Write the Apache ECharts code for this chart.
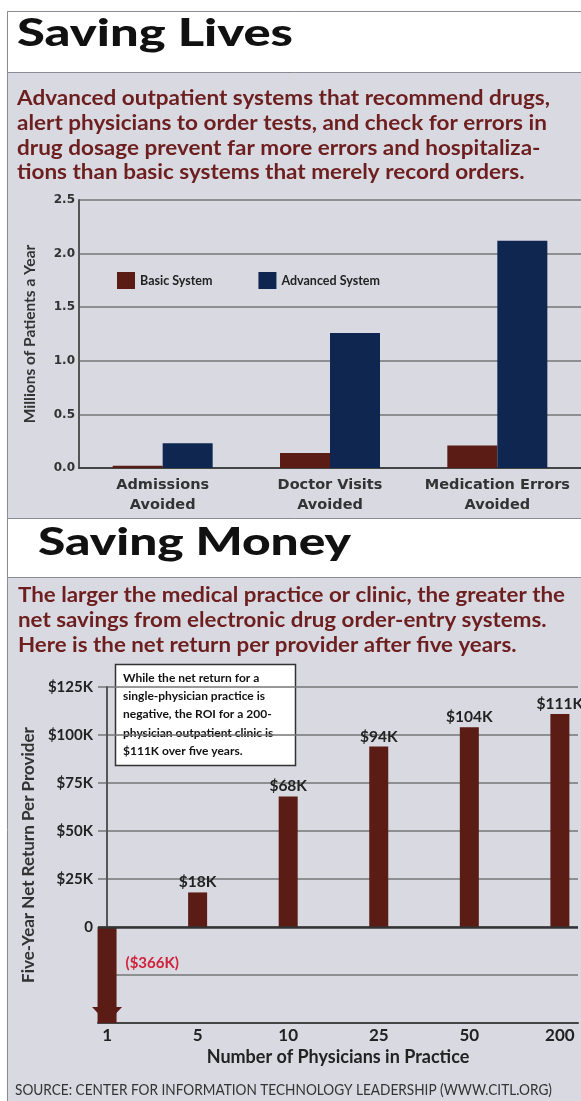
<!DOCTYPE html>
<html>
<head>
<meta charset="utf-8">
<script src="https://cdn.jsdelivr.net/npm/echarts@6/dist/echarts.min.js"></script>
<style>
html,body{margin:0;padding:0;background:#fff;}
#chart{width:581px;height:1101px;}
</style>
</head>
<body>
<div id="chart"></div>
<script>
// ---- data: Saving Lives ----
const livesCategories = ['Admissions\nAvoided', 'Doctor Visits\nAvoided', 'Medication Errors\nAvoided'];
const basicSystem = [0.02, 0.14, 0.21];
const advancedSystem = [0.23, 1.26, 2.12];
const livesTicks = [0, 0.5, 1.0, 1.5, 2.0, 2.5];

// ---- data: Saving Money ----
const physicians = ['1', '5', '10', '25', '50', '200'];
const netReturn = [-366000, 18000, 68000, 94000, 104000, 111000];
const moneyTicks = [-50000, -25000, 0, 25000, 50000, 75000, 100000, 125000];

// ---- texts ----
const title1 = 'Saving Lives';
const sub1 = ['Advanced outpatient systems that recommend drugs,',
  'alert physicians to order tests, and check for errors in',
  'drug dosage prevent far more errors and hospitaliza-',
  'tions than basic systems that merely record orders.'];
const title2 = 'Saving Money';
const sub2 = ['The larger the medical practice or clinic, the greater the',
  'net savings from electronic drug order-entry systems.',
  'Here is the net return per provider after five years.'];
const note = ['While the net return for a', 'single-physician practice is',
  'negative, the ROI for a 200-', 'physician outpatient clinic is', '$111K over five years.'];
const source = 'SOURCE: CENTER FOR INFORMATION TECHNOLOGY LEADERSHIP (WWW.CITL.ORG)';

const BASIC = '#5a1c14', ADV = '#0e2650', MAROON = '#6d1f1f';
const mctx = document.createElement('canvas').getContext('2d');
function fit(text, font, target) { mctx.font = font; return target / mctx.measureText(text).width; }

const tFont = '900 38px Lato';
const sFont = 'bold 21px Lato';
const srcFont = '15px Lato';

const kFmt = v => '$' + Math.round(Math.abs(v) / 1000) + 'K';

const chart = echarts.init(document.getElementById('chart'), null, {renderer: 'canvas'});
const lmin = moneyTicks[0], lmax = moneyTicks[moneyTicks.length - 1];

chart.setOption({
  animation: false,
  backgroundColor: '#ffffff',
  textStyle: {fontFamily: 'Lato'},
  graphic: [
    {type: 'rect', z: -20, silent: true, shape: {x: 7.5, y: 11.5, width: 600, height: 1100},
      style: {fill: '#d8d9e1', stroke: '#8a8c95', lineWidth: 1}},
    {type: 'rect', z: -10, silent: true, shape: {x: 7.5, y: 11.5, width: 600, height: 61},
      style: {fill: '#ffffff', stroke: '#8a8c95', lineWidth: 1}},
    {type: 'rect', z: -10, silent: true, shape: {x: 7.5, y: 518.5, width: 600, height: 59},
      style: {fill: '#ffffff', stroke: '#8a8c95', lineWidth: 1}},
    {type: 'text', x: 17, y: 34, scaleX: fit(title1, tFont, 276), silent: true,
      style: {text: title1, font: tFont, fill: '#111', textAlign: 'left', textVerticalAlign: 'middle', align: 'left', verticalAlign: 'middle'}},
    {type: 'text', x: 38, y: 543, scaleX: fit(title2, tFont, 313), silent: true,
      style: {text: title2, font: tFont, fill: '#111', textAlign: 'left', textVerticalAlign: 'middle', align: 'left', verticalAlign: 'middle'}},
    {type: 'text', x: 17, y: 86, scaleX: fit(sub1[0], sFont, 533), silent: true,
      style: {text: sub1.join('\n'), font: sFont, lineHeight: 24.7, fill: MAROON, textAlign: 'left', textVerticalAlign: 'top', align: 'left', verticalAlign: 'top'}},
    {type: 'text', x: 18, y: 582.5, scaleX: fit(sub2[0], sFont, 547), silent: true,
      style: {text: sub2.join('\n'), font: sFont, lineHeight: 25, fill: MAROON, textAlign: 'left', textVerticalAlign: 'top', align: 'left', verticalAlign: 'top'}},
    {type: 'text', x: 15, y: 1090, scaleX: fit(source, srcFont, 537), silent: true,
      style: {text: source, font: srcFont, fill: '#333', textAlign: 'left', textVerticalAlign: 'middle', align: 'left', verticalAlign: 'middle'}},
    {type: 'group', z: 50, silent: true, children: [
      {type: 'rect', shape: {x: 115.5, y: 664.5, width: 180, height: 101},
        style: {fill: '#ffffff', stroke: '#333', lineWidth: 1.5}},
      {type: 'text', x: 123, y: 669,
        style: {text: note.join('\n'), font: 'bold 12px Lato', lineHeight: 18.2, fill: '#111', textAlign: 'left', textVerticalAlign: 'top', align: 'left', verticalAlign: 'top'}}
    ]}
  ],
  legend: {
    left: 112, top: 267, icon: 'rect', itemWidth: 18, itemHeight: 17, itemGap: 46,
    textStyle: {fontFamily: 'Lato', fontWeight: 'bold', fontSize: 12.5, color: '#222'},
    data: ['Basic System', 'Advanced System']
  },
  grid: [
    {left: 79, right: 0, top: 200, bottom: 1101 - 468},
    {left: 98, right: 0, top: 687, bottom: 1101 - 1023}
  ],
  xAxis: [
    {type: 'category', gridIndex: 0, data: livesCategories,
      axisLine: {lineStyle: {color: '#444', width: 2}}, axisTick: {show: false},
      axisLabel: {interval: 0, hideOverlap: false, fontFamily: 'DejaVu Sans', fontWeight: 'bold', fontSize: 14.5, color: '#333', lineHeight: 20, margin: 7}},
    {type: 'value', gridIndex: 1, min: -0.1, max: 5.2, interval: 0.1,
      axisLine: {onZero: false, lineStyle: {color: '#444', width: 2}}, axisTick: {show: false}, splitLine: {show: false},
      axisLabel: {fontFamily: 'Lato', fontWeight: 'bold', fontSize: 17, color: '#222', margin: 4,
        formatter: v => (Math.abs(v - Math.round(v)) < 1e-6 && physicians[Math.round(v)] !== undefined) ? physicians[Math.round(v)] : ''},
      name: 'Number of Physicians in Practice', nameLocation: 'middle', nameGap: 25,
      nameTextStyle: {fontFamily: 'Lato', fontWeight: 'bold', fontSize: 18, color: '#222'}}
  ],
  yAxis: [
    {type: 'value', gridIndex: 0, min: livesTicks[0], max: livesTicks[livesTicks.length - 1], interval: 0.5,
      axisLine: {show: true, lineStyle: {color: '#555', width: 2}}, axisTick: {show: false},
      splitLine: {lineStyle: {color: '#767676', width: 1.5}},
      axisLabel: {fontFamily: 'DejaVu Sans', fontWeight: 'bold', fontSize: 12, color: '#333', margin: 4, formatter: v => v.toFixed(1)},
      name: 'Millions of Patients a Year', nameLocation: 'middle', nameGap: 41,
      nameTextStyle: {fontFamily: 'Lato', fontWeight: 'bold', fontSize: 15.5, color: '#333'}},
    {type: 'value', gridIndex: 1, min: lmin, max: lmax, interval: 25000,
      axisLine: {show: true, lineStyle: {color: '#555', width: 2}}, axisTick: {show: false},
      splitLine: {lineStyle: {color: '#767676', width: 1.5}},
      axisLabel: {fontFamily: 'Lato', fontWeight: 'bold', fontSize: 15, color: '#222', margin: 5,
        formatter: v => v < 0 ? '' : (v === 0 ? '0' : kFmt(v))},
      name: 'Five-Year Net Return Per Provider', nameLocation: 'middle', nameGap: 58,
      nameTextStyle: {fontFamily: 'Lato', fontWeight: 'bold', fontSize: 17, color: '#333'}}
  ],
  series: [
    {name: 'Basic System', type: 'bar', xAxisIndex: 0, yAxisIndex: 0, data: basicSystem,
      barWidth: 50, barGap: '0%', itemStyle: {color: BASIC}},
    {name: 'Advanced System', type: 'bar', xAxisIndex: 0, yAxisIndex: 0, data: advancedSystem,
      barWidth: 50, barGap: '0%', itemStyle: {color: ADV}},
    {name: 'Net Return', type: 'bar', xAxisIndex: 1, yAxisIndex: 1, barWidth: 19, clip: true,
      itemStyle: {color: BASIC},
      data: netReturn.map((v, i) => v < 0
        ? {value: [i, v], label: {position: 'right', distance: 9, offset: [0, -12], color: '#d0213a', fontSize: 15}}
        : [i, v]),
      label: {show: true, position: 'top', distance: 2, fontFamily: 'Lato', fontWeight: 'bold', fontSize: 15.5, color: '#222',
        formatter: p => { const v = p.value[1]; return v < 0 ? '(' + kFmt(v) + ')' : kFmt(v); }},
      markLine: {silent: true, symbol: ['none', 'none'], label: {show: false},
        lineStyle: {color: '#333', width: 2.5, type: 'solid'}, data: [{yAxis: 0}]},
      markPoint: {silent: true, clip: false, z: 10, symbol: 'triangle', symbolRotate: 180, symbolSize: [30, 16], symbolOffset: [0, -8],
        itemStyle: {color: BASIC, borderWidth: 0}, label: {show: false},
        data: netReturn.map((v, i) => v < lmin ? {coord: [i, lmin], symbol: 'triangle', symbolRotate: 180, symbolSize: [30, 16], itemStyle: {color: BASIC}} : null).filter(d => d)}
    }
  ]
});
</script>
</body>
</html>
